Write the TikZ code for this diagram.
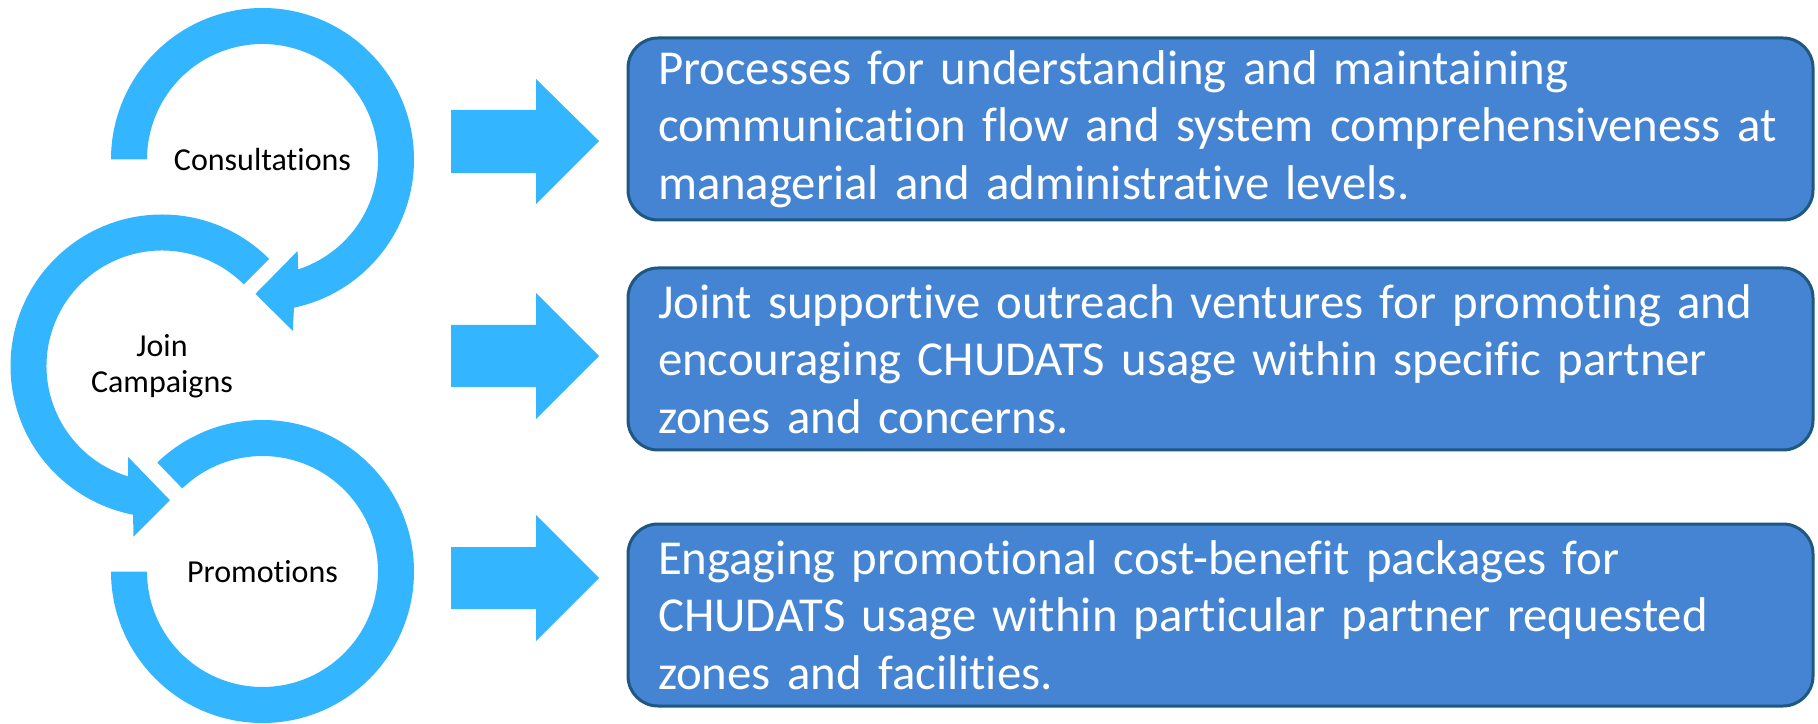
\documentclass[tikz,border=0pt]{standalone}
\usepackage{fontspec}
\setmainfont{Carlito}[Ligatures=NoCommon]
\usetikzlibrary{positioning}
\definecolor{ringblue}{RGB}{51,181,255}
\definecolor{boxblue}{RGB}{69,132,211}
\definecolor{boxedge}{RGB}{30,88,130}

\begin{document}
\begin{tikzpicture}[x=0.5pt, y=0.5pt,
  ring/.style={fill=ringblue},
  info/.style={rectangle, rounded corners=15pt, draw=boxedge, line width=1.5pt, fill=boxblue,
    text=white, text width=562.5pt, inner xsep=15pt, inner ysep=0pt, minimum height=91pt,
    align=left, font=\fontsize{24.4}{28.75}\selectfont},
  tag/.style={align=center, font=\fontsize{16}{18}\selectfont}]
\useasboundingbox (0,0) rectangle (1818,723);
\coordinate (c1) at (262.5,563.5);
\coordinate (c2) at (162,357);
\coordinate (c3) at (262.5,151.5);
% circular arrows
\fill[ring] ([shift={(c1)}]180:151.5) arc[start angle=180, end angle=-78, radius=151.5]
  -- ([shift={(c1)}]-80:174) -- ([shift={(c1)}]-93:134.5) -- ([shift={(c1)}]-69:98)
  -- ([shift={(c1)}]-72:115.5) arc[start angle=-72, end angle=180, radius=115.5] -- cycle;
\fill[ring] ([shift={(c2)}]45:151.5) arc[start angle=45, end angle=259, radius=151.5]
  -- ([shift={(c2)}]260.5:173) -- ([shift={(c2)}]273.4:134.5) -- ([shift={(c2)}]249.5:97)
  -- ([shift={(c2)}]253:115.5) arc[start angle=253, end angle=45, radius=115.5] -- cycle;
\fill[ring] ([shift={(c3)}]180:151.5) arc[start angle=180, end angle=494, radius=151.5]
  -- ([shift={(c3)}]134:115.5) arc[start angle=134, end angle=-180, radius=115.5] -- cycle;
\node[tag] (consult) at (c1) {Consultations};
\node[tag] (campaign) at (c2) {Join\\Campaigns};
\node[tag] (promo) at (c3) {Promotions};
% block arrows
\fill[ring] (451,613) -- (536,613) -- (536,644) -- (599,582) -- (536,519) -- (536,550) -- (451,550) -- cycle;
\fill[ring] (451,398) -- (536,398) -- (536,430) -- (599,367) -- (536,304) -- (536,336) -- (451,336) -- cycle;
\fill[ring] (451,176) -- (536,176) -- (536,208) -- (599,145) -- (536,82) -- (536,114) -- (451,114) -- cycle;
% boxes
\node[info] (process) at (1220.5,594) {Processes for understanding and maintaining\\communication flow and system comprehensiveness at\\managerial and administrative levels.};
\node[info, below=22.5pt of process] (outreach) {Joint supportive outreach ventures for promoting and\\encouraging CHUDATS usage within specific partner\\zones and concerns.};
\node[info, below=35.5pt of outreach] (package) {Engaging promotional cost-benefit packages for\\CHUDATS usage within particular partner requested\\zones and facilities.};
\end{tikzpicture}
\end{document}
